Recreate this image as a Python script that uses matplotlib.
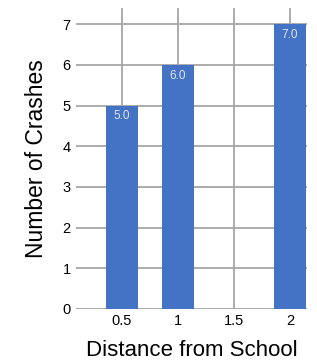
import matplotlib
matplotlib.use("Agg")
import matplotlib.pyplot as plt

plt.rcParams["font.family"] = ["Liberation Sans", "DejaVu Sans"]

# data
distance = [0.5, 1, 2]
crashes = [5, 6, 7]
x_ticks = [0.5, 1, 1.5, 2]
x_tick_labels = ["0.5", "1", "1.5", "2"]
y_ticks = [0, 1, 2, 3, 4, 5, 6, 7]

fig = plt.figure(figsize=(3.17, 3.63), dpi=100)
ax = fig.add_axes([0.24, 0.149, 0.728, 0.829])

bars = ax.bar(distance, crashes, width=0.29, color="#4472C4", zorder=3)
for b, v in zip(bars, crashes):
    ax.text(b.get_x() + b.get_width() / 2, v - 0.12, f"{v:.1f}",
            ha="center", va="top", color="#dfe6f5", fontsize=8.5, zorder=4)

ax.set_xlim(0.09, 2.15)
ax.set_ylim(0, 7.4)
ax.set_xticks(x_ticks)
ax.set_xticklabels(x_tick_labels)
ax.set_yticks(y_ticks)

ax.grid(True, color="#a6a6a6", linewidth=1.3, zorder=0)
ax.axhline(0, color="#e0e0e0", linewidth=1.3, zorder=1)
for s in ax.spines.values():
    s.set_visible(False)
ax.tick_params(length=0, labelsize=10.5, pad=4)

ax.set_xlabel("Distance from School", fontsize=16, labelpad=8)
ax.set_ylabel("Number of Crashes", fontsize=16.5, labelpad=10)

fig.savefig("out.png", dpi=100)
